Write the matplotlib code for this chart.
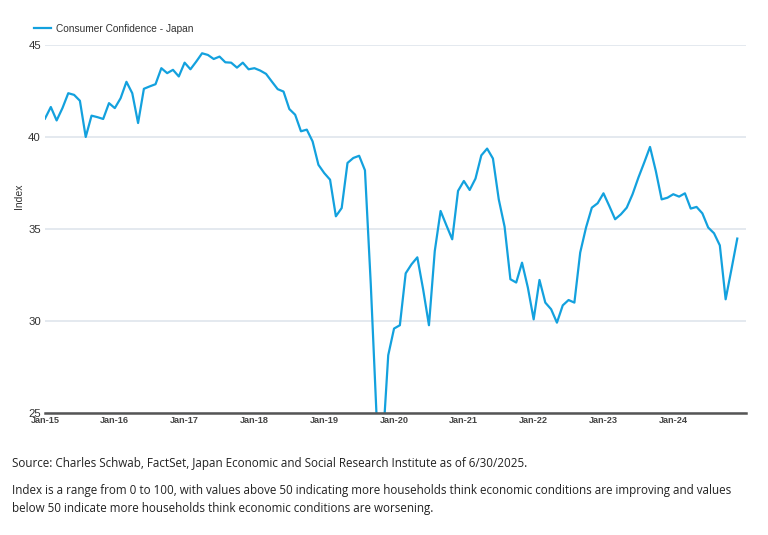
import matplotlib
matplotlib.use("Agg")
import matplotlib.pyplot as plt
import numpy as np
import pandas as pd

# ---- data ----
dates = pd.date_range("2015-01-01", "2024-12-01", freq="MS")
values_2015 = [41.0, 41.63, 40.9, 41.57, 42.38, 42.29, 41.97, 40.0, 41.16, 41.08, 40.98, 41.84]
values_2016 = [41.57, 42.11, 43.0, 42.38, 40.76, 42.62, 42.75, 42.87, 43.74, 43.47, 43.65, 43.29]
values_2017 = [44.04, 43.68, 44.1, 44.55, 44.46, 44.24, 44.37, 44.06, 44.04, 43.77, 44.04, 43.68]
values_2018 = [43.74, 43.61, 43.43, 43.01, 42.6, 42.47, 41.52, 41.21, 40.31, 40.4, 39.76, 38.49]
values_2019 = [38.04, 37.68, 35.69, 36.14, 38.59, 38.86, 38.98, 38.19, 32.0, 24.8, 23.0, 28.14]
values_2020 = [29.59, 29.77, 32.59, 33.08, 33.46, 31.72, 29.77, 33.8, 35.98, 35.2, 34.44, 37.07]
values_2021 = [37.61, 37.12, 37.74, 39.0, 39.37, 38.83, 36.61, 35.13, 32.27, 32.09, 33.17, 31.82]
values_2022 = [30.09, 32.23, 31.0, 30.64, 29.91, 30.85, 31.14, 31.0, 33.72, 35.08, 36.16, 36.4]
values_2023 = [36.94, 36.25, 35.53, 35.8, 36.16, 36.89, 37.79, 38.61, 39.46, 38.15, 36.61, 36.7]
values_2024 = [36.89, 36.76, 36.94, 36.11, 36.2, 35.85, 35.08, 34.77, 34.11, 31.18, 32.81, 34.48]
values = (values_2015 + values_2016 + values_2017 + values_2018 + values_2019 +
          values_2020 + values_2021 + values_2022 + values_2023 + values_2024)

tick_labels = ["Jan-15", "Jan-16", "Jan-17", "Jan-18", "Jan-19",
               "Jan-20", "Jan-21", "Jan-22", "Jan-23", "Jan-24"]
y_ticks = [25, 30, 35, 40, 45]
series_name = "Consumer Confidence - Japan"

source_text = "Source: Charles Schwab, FactSet, Japan Economic and Social Research Institute as of 6/30/2025."
note_text = ("Index is a range from 0 to 100, with values above 50 indicating more households think economic conditions are improving and values\n"
             "below 50 indicate more households think economic conditions are worsening.")

# ---- figure ----
plt.rcParams["font.family"] = ["Liberation Sans", "DejaVu Sans"]
fig = plt.figure(figsize=(7.68, 5.35), dpi=100)
ax = fig.add_axes([45 / 768, 1 - 413 / 535, (746 - 45) / 768, (413 - 45) / 535])

blue = "#13A1DE"
x = np.arange(len(values))
ax.plot(x, values, color=blue, lw=1.6, solid_joinstyle="round", label=series_name, clip_on=True)

ax.set_ylim(25, 45)
ax.set_xlim(0, 120.5)
ax.set_yticks(y_ticks)
ax.set_yticklabels([str(v) for v in y_ticks], fontsize=8.2, color="#333333")
ax.set_xticks([12 * i for i in range(len(tick_labels))])
ax.set_xticklabels(tick_labels, fontsize=6.6, color="#444444", fontweight="bold")
ax.tick_params(axis="both", length=0)
ax.tick_params(axis="y", pad=3)
ax.tick_params(axis="x", pad=2)

ax.grid(axis="y", color="#dfe5ec", lw=1.2)
ax.set_axisbelow(True)
for s in ["top", "right", "left"]:
    ax.spines[s].set_visible(False)
ax.spines["bottom"].set_color("#555555")
ax.spines["bottom"].set_linewidth(1.8)
ax.spines["bottom"].set_zorder(3)

ax.set_ylabel("Index", fontsize=7.5, color="#333333")
ax.yaxis.set_label_coords(-0.030, 0.59)

leg = ax.legend(loc="lower left", bbox_to_anchor=(-0.022, 1.02), frameon=False,
                fontsize=7.3, handlelength=1.75, handletextpad=0.45, borderaxespad=0)
for t in leg.get_texts():
    t.set_color("#333333")

fig.text(12 / 768, 1 - 463 / 535, source_text, fontsize=8.35, color="#222222", va="center",
         family=["Open Sans", "DejaVu Sans"])
fig.text(12 / 768, 1 - 499.5 / 535, note_text, fontsize=8.35, color="#222222", va="center",
         family=["Open Sans", "DejaVu Sans"], linespacing=1.5)

fig.savefig("out.png", dpi=100)
